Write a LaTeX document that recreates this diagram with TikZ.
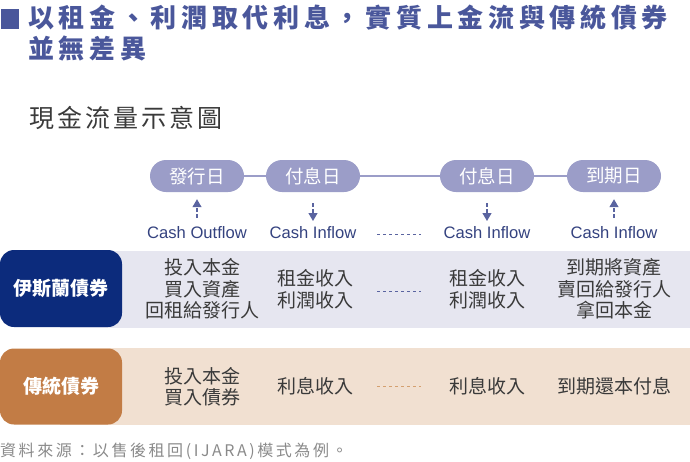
\documentclass[tikz,border=0pt]{standalone}
\usepackage{fontspec}
\setmainfont{Noto Sans CJK TC}
\newfontfamily\titlefont[LetterSpace=18]{Noto Sans CJK TC}
\newfontfamily\subfont[LetterSpace=12]{Noto Sans CJK TC}
\newfontfamily\notefont[LetterSpace=16]{Noto Sans CJK TC}
\newfontfamily\latinfont{Liberation Sans}
\usetikzlibrary{arrows.meta}

\definecolor{titleblue}{HTML}{4A579B}
\definecolor{pillc}{HTML}{9B9DC8}
\definecolor{flowc}{HTML}{5A64A0}
\definecolor{cashc}{HTML}{34427F}
\definecolor{navytab}{HTML}{0C2B7C}
\definecolor{browntab}{HTML}{C27C45}
\definecolor{islambg}{HTML}{E6E6F0}
\definecolor{tradbg}{HTML}{F1E0D1}
\definecolor{bodyc}{HTML}{3A3A3A}
\definecolor{notec}{HTML}{8A8A8A}
\definecolor{tradline}{HTML}{D4A070}

\begin{document}
\begin{tikzpicture}[x=1pt,y=-1pt,
	pill/.style={fill=pillc,rounded corners=16pt,minimum width=94pt,minimum height=32pt,
		inner sep=0pt,text=white,font=\fontsize{18.5}{18.5}\selectfont},
	link/.style={pillc,line width=2pt},
	flow/.style={flowc,line width=1.2pt,dash pattern=on 4pt off 2pt,
		-{Triangle[width=9pt,length=8pt]}},
	cash/.style={text=cashc,inner sep=0pt,font=\latinfont\fontsize{16.6}{16.6}\selectfont},
	tab/.style={rounded corners=14pt,minimum width=122pt,inner sep=0pt,text=white,
		font=\bfseries\fontsize{19}{19}\selectfont},
	cell/.style={text=bodyc,align=center,inner sep=0pt,font=\fontsize{19}{21.5}\selectfont},
	sep/.style={line width=1pt,dash pattern=on 3pt off 3pt}
]
	\useasboundingbox (0,0) rectangle (690,461);
	% heading
	\fill[titleblue] (1,9) rectangle (19,29);
	\node[anchor=base west,inner sep=0pt,text=titleblue,font=\titlefont\bfseries\fontsize{26}{26}\selectfont]
		(title1) at (28,27) {以租金、利潤取代利息，實質上金流與傳統債券};
	\node[anchor=base west,inner sep=0pt,text=titleblue,font=\titlefont\bfseries\fontsize{26}{26}\selectfont]
		(title2) at (28,58) {並無差異};
	\node[anchor=base west,inner sep=0pt,text=bodyc,font=\subfont\fontsize{25}{25}\selectfont]
		(subtitle) at (29,127) {現金流量示意圖};
	% timeline
	\node[pill] (issue) at (197,176) {發行日};
	\node[pill] (pay1) at (313,176) {付息日};
	\node[pill] (pay2) at (487,176) {付息日};
	\node[pill] (mature) at (614,176) {到期日};
	\draw[link]
		(issue) -- (pay1)
		(pay1) -- (pay2)
		(pay2) -- (mature)
	;
	\node[cash] (cash1) at (197,233) {Cash Outflow};
	\node[cash] (cash2) at (313,233) {Cash Inflow};
	\node[cash] (cash3) at (487,233) {Cash Inflow};
	\node[cash] (cash4) at (614,233) {Cash Inflow};
	\coordinate (up1) at (197,218);
	\coordinate (down2) at (313,221);
	\coordinate (down3) at (487,221);
	\coordinate (up4) at (614,218);
	\draw[flow,shorten >=7pt] (up1) -- (issue);
	\draw[flow,shorten <=11pt] (pay1) -- (down2);
	\draw[flow,shorten <=11pt] (pay2) -- (down3);
	\draw[flow,shorten >=7pt] (up4) -- (mature);
	\coordinate (dotsA) at (377,234);
	\coordinate (dotsB) at (421,234);
	\draw[sep,flowc] (dotsA) -- (dotsB);
	% islamic bond row
	\fill[islambg] (60,251) rectangle (690,328);
	\node[tab,fill=navytab,minimum height=77pt] (islam) at (61,288.5) {伊斯蘭債券};
	\node[cell] (islam1) at (202,289) {投入本金\\買入資產\\回租給發行人};
	\node[cell] (islam2) at (315,289) {租金收入\\利潤收入};
	\node[cell] (islam3) at (487,289) {租金收入\\利潤收入};
	\node[cell] (islam4) at (614,289) {到期將資產\\賣回給發行人\\拿回本金};
	\coordinate (dotsC) at (377,291);
	\coordinate (dotsD) at (421,291);
	\draw[sep,flowc] (dotsC) -- (dotsD);
	% conventional bond row
	\fill[tradbg] (60,348) rectangle (690,425);
	\node[tab,fill=browntab,minimum height=76pt] (trad) at (61,386.5) {傳統債券};
	\node[cell] (trad1) at (202,386.5) {投入本金\\買入債券};
	\node[cell] (trad2) at (315,386.5) {利息收入};
	\node[cell] (trad3) at (487,386.5) {利息收入};
	\node[cell] (trad4) at (614,386.5) {到期還本付息};
	\coordinate (dotsE) at (377,386);
	\coordinate (dotsF) at (421,386);
	\draw[sep,tradline] (dotsE) -- (dotsF);
	% source
	\node[anchor=base west,inner sep=0pt,text=notec,font=\notefont\fontsize{16}{16}\selectfont]
		(source) at (0,456) {資料來源：以售後租回(IJARA)模式為例。};
\end{tikzpicture}
\end{document}
